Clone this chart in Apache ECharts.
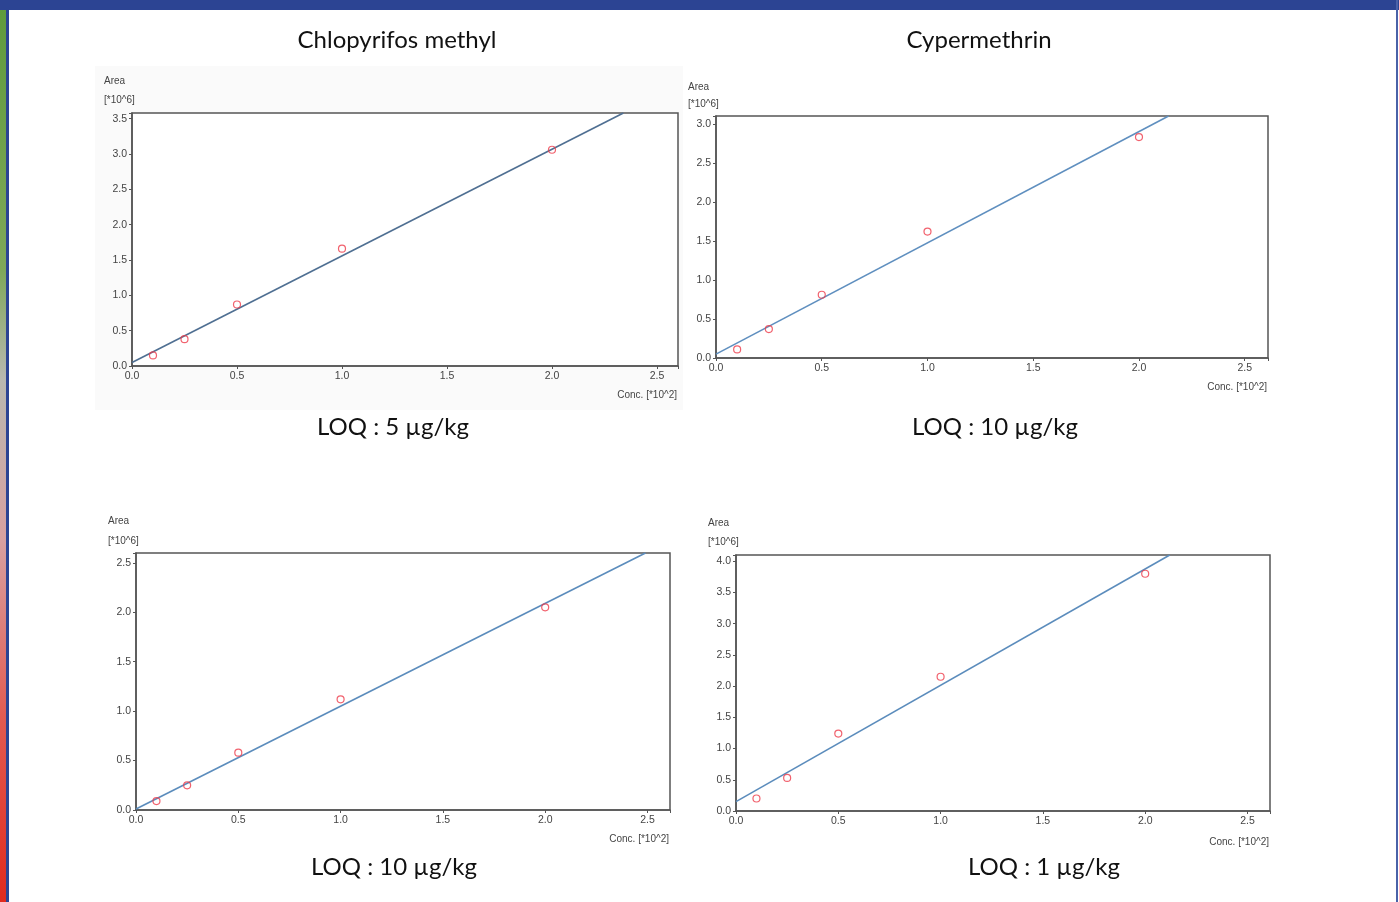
<!DOCTYPE html>
<html>
<head>
<meta charset="utf-8">
<script src="https://cdn.jsdelivr.net/npm/echarts@6/dist/echarts.min.js"></script>
<style>
html,body{margin:0;padding:0;background:#fff;}
#c{width:1399px;height:902px;}
</style>
</head>
<body>
<div id="c"></div>
<script>
// ---- data ----
var titles = ['Chlopyrifos methyl', 'Cypermethrin'];
var loqLabels = ['LOQ : 5 µg/kg', 'LOQ : 10 µg/kg', 'LOQ : 10 µg/kg', 'LOQ : 1 µg/kg'];
var xTicks = [0.0, 0.5, 1.0, 1.5, 2.0, 2.5];
var conc = [0.1, 0.25, 0.5, 1.0, 2.0];
var area1 = [0.15, 0.38, 0.87, 1.66, 3.06];
var area2 = [0.11, 0.37, 0.81, 1.62, 2.83];
var area3 = [0.09, 0.25, 0.58, 1.12, 2.05];
var area4 = [0.20, 0.53, 1.24, 2.15, 3.80];
// calibration line endpoints [x, y]
var fit1 = [[0, 0.05], [2.34, 3.58]];
var fit2 = [[0, 0.05], [2.14, 3.10]];
var fit3 = [[0, 0.01], [2.49, 2.60]];
var fit4 = [[0, 0.15], [2.12, 4.10]];
var yMax = [3.58, 3.10, 2.60, 4.10];
var xMax = [2.60, 2.61, 2.61, 2.61];
var yUnit = '[*10^6]';
var xName = 'Conc. [*10^2]';
var yName = 'Area';

var areas = [area1, area2, area3, area4];
var fits = [fit1, fit2, fit3, fit4];

// ---- layout ----
var grids = [
  {left: 132, top: 113, width: 546, height: 253},
  {left: 716, top: 116, width: 552, height: 242},
  {left: 136, top: 553, width: 534, height: 257},
  {left: 736, top: 555, width: 534, height: 256}
];
var lineColors = ['#4f6f92', '#5f8fbf', '#5b8cbc', '#5b8cbc'];

var chart = echarts.init(document.getElementById('c'));

function fmt(v){
  var r = Math.round(v * 2) / 2;
  if (Math.abs(r - v) > 1e-6) return '';
  return r.toFixed(1);
}

var xAxes = [], yAxes = [], series = [];
grids.forEach(function(g, i){
  g.show = true;
  g.borderColor = '#555';
  g.borderWidth = 1.5;
  g.backgroundColor = '#ffffff';
  xAxes.push({
    type: 'value', gridIndex: i, min: 0, max: xMax[i], interval: 0.5,
    axisLine: {show: true, onZero: false, lineStyle: {color: '#555', width: 1.5}},
    axisTick: {show: true, length: 3, lineStyle: {color: '#555'}},
    axisLabel: {formatter: fmt, color: '#444', fontSize: 10.5, fontFamily: 'Liberation Sans', margin: 5},
    splitLine: {show: false}
  });
  yAxes.push({
    type: 'value', gridIndex: i, min: 0, max: yMax[i], interval: 0.5,
    axisLine: {show: true, onZero: false, lineStyle: {color: '#555', width: 1.5}},
    axisTick: {show: true, length: 3, lineStyle: {color: '#555'}},
    axisLabel: {formatter: fmt, color: '#444', fontSize: 10.5, fontFamily: 'Liberation Sans', margin: 5},
    splitLine: {show: false}
  });
  series.push({
    type: 'line', xAxisIndex: i, yAxisIndex: i, data: fits[i],
    symbol: 'none', clip: true, silent: true,
    lineStyle: {color: lineColors[i], width: 1.6}, z: 2
  });
  series.push({
    type: 'scatter', xAxisIndex: i, yAxisIndex: i,
    data: conc.map(function(x, k){ return [x, areas[i][k]]; }),
    symbol: 'circle', symbolSize: 7,
    itemStyle: {color: 'rgba(255,255,255,0)', borderColor: '#ee3b4a', borderWidth: 1.2}, z: 3
  });
});

var small = {fontSize: 10, fontFamily: 'Liberation Sans', fill: '#444'};
function txt(x, y, s, align, style){
  return {type: 'text', x: x, y: y,
    style: Object.assign({text: s, textAlign: align || 'left', textVerticalAlign: 'middle'}, style || small), z: 10};
}
var big = {fontSize: 24, fontFamily: 'Lato', fill: '#111'};

var graphics = [
  // faint background panel behind first chart
  {type: 'rect', shape: {x: 95, y: 66, width: 588, height: 344}, style: {fill: '#fafafa'}, z: -10},
  // top blue bar
  {type: 'rect', shape: {x: 0, y: 0, width: 1399, height: 10}, style: {fill: '#2c4493'}, z: 20},
  // left gradient strip
  {type: 'rect', shape: {x: 0, y: 0, width: 6, height: 902},
   style: {fill: new echarts.graphic.LinearGradient(0, 0, 0, 1, [
     {offset: 0, color: '#5e9a3c'}, {offset: 0.3, color: '#7fa85a'},
     {offset: 0.42, color: '#b8b8b0'}, {offset: 0.6, color: '#d8a0a0'},
     {offset: 0.8, color: '#e25a50'}, {offset: 1, color: '#e02a1e'}])}, z: 19},
  // left blue line
  {type: 'rect', shape: {x: 6, y: 0, width: 3, height: 902}, style: {fill: '#2c4493'}, z: 20},
  // right thin line
  {type: 'rect', shape: {x: 1396, y: 0, width: 2, height: 902}, style: {fill: '#4a62a8'}, z: 20},
  txt(397, 40, titles[0], 'center', big),
  txt(979, 40, titles[1], 'center', big),
  txt(393, 427, loqLabels[0], 'center', big),
  txt(995, 427, loqLabels[1], 'center', big),
  txt(394, 867, loqLabels[2], 'center', big),
  txt(1044, 867, loqLabels[3], 'center', big),
  // axis names
  txt(104, 81, yName), txt(104, 100, yUnit),
  txt(688, 87, yName), txt(688, 104, yUnit),
  txt(108, 521, yName), txt(108, 541, yUnit),
  txt(708, 523, yName), txt(708, 542, yUnit),
  txt(677, 395, xName, 'right'),
  txt(1267, 387, xName, 'right'),
  txt(669, 839, xName, 'right'),
  txt(1269, 842, xName, 'right')
];

chart.setOption({
  animation: false,
  backgroundColor: '#ffffff',
  grid: grids,
  xAxis: xAxes,
  yAxis: yAxes,
  series: series,
  graphic: graphics
});
</script>
</body>
</html>
